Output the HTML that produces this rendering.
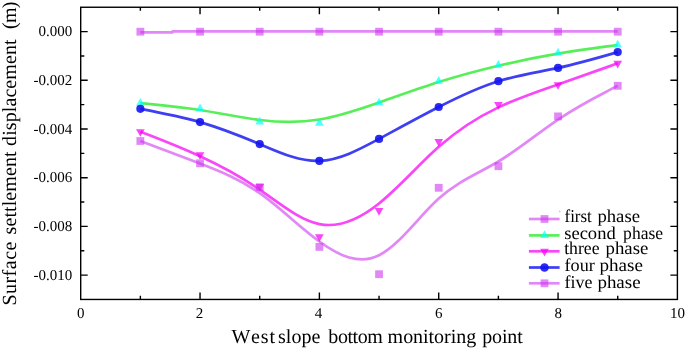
<!DOCTYPE html>
<html><head><meta charset="utf-8"><style>
html,body{margin:0;padding:0;background:#fff;}
body{width:685px;height:349px;overflow:hidden;}
svg{display:block;}
text{font-kerning:none;text-rendering:geometricPrecision;}
.tk{font-family:"Liberation Serif","Times New Roman",serif;font-size:15px;fill:#000;}
.ti{font-family:"Liberation Serif","Times New Roman",serif;font-size:20px;fill:#000;}
.yt{font-size:20.5px;}
.lg{font-family:"Liberation Serif","Times New Roman",serif;font-size:18px;fill:#000;}
</style></head><body>
<svg width="685" height="349" viewBox="0 0 685 349">
<rect x="80.7" y="7.25" width="596.7" height="292.2" fill="none" stroke="#000" stroke-width="1.4"/>
<path d="M140.37 299.45V295.85M140.37 7.25V10.85M200.04 299.45V292.45M200.04 7.25V14.25M259.71 299.45V295.85M259.71 7.25V10.85M319.38 299.45V292.45M319.38 7.25V14.25M379.05 299.45V295.85M379.05 7.25V10.85M438.72 299.45V292.45M438.72 7.25V14.25M498.39 299.45V295.85M498.39 7.25V10.85M558.06 299.45V292.45M558.06 7.25V14.25M617.73 299.45V295.85M617.73 7.25V10.85M80.7 275.1H87.7M677.4 275.1H670.4M80.7 250.75H84.3M677.4 250.75H673.8M80.7 226.4H87.7M677.4 226.4H670.4M80.7 202.05H84.3M677.4 202.05H673.8M80.7 177.7H87.7M677.4 177.7H670.4M80.7 153.35H84.3M677.4 153.35H673.8M80.7 129H87.7M677.4 129H670.4M80.7 104.65H84.3M677.4 104.65H673.8M80.7 80.3H87.7M677.4 80.3H670.4M80.7 55.95H84.3M677.4 55.95H673.8M80.7 31.6H87.7M677.4 31.6H670.4" stroke="#000" stroke-width="1.4" fill="none"/>
<path d="M140.37 32.3H172.6V31.45H617.73" fill="none" stroke="rgb(205,50,240)" stroke-opacity="0.58" stroke-width="2.7" stroke-linejoin="round"/>
<rect x="136.47" y="27.8" width="7.8" height="7.8" fill="rgb(205,50,240)" fill-opacity="0.58"/>
<rect x="196.14" y="27.8" width="7.8" height="7.8" fill="rgb(205,50,240)" fill-opacity="0.58"/>
<rect x="255.81" y="27.8" width="7.8" height="7.8" fill="rgb(205,50,240)" fill-opacity="0.58"/>
<rect x="315.48" y="27.8" width="7.8" height="7.8" fill="rgb(205,50,240)" fill-opacity="0.58"/>
<rect x="375.15" y="27.8" width="7.8" height="7.8" fill="rgb(205,50,240)" fill-opacity="0.58"/>
<rect x="434.82" y="27.8" width="7.8" height="7.8" fill="rgb(205,50,240)" fill-opacity="0.58"/>
<rect x="494.49" y="27.8" width="7.8" height="7.8" fill="rgb(205,50,240)" fill-opacity="0.58"/>
<rect x="554.16" y="27.8" width="7.8" height="7.8" fill="rgb(205,50,240)" fill-opacity="0.58"/>
<rect x="613.83" y="27.8" width="7.8" height="7.8" fill="rgb(205,50,240)" fill-opacity="0.58"/>
<path d="M140.37 103.1C140.37 103.1 140.37 103.1 150.31 104.03C160.26 104.97 180.15 106.83 200.04 109.98C219.93 113.13 239.82 117.57 259.71 119.97C279.6 122.37 299.49 122.73 319.38 119.53C339.27 116.33 359.16 109.57 379.05 102.57C398.94 95.57 418.83 88.33 438.72 82.05C458.61 75.77 478.5 70.43 498.39 65.75C518.28 61.07 538.17 57.03 558.06 53.68C577.95 50.33 597.84 47.67 607.78 46.33C617.73 45 617.73 45 617.73 45" fill="none" stroke="rgb(0,230,0)" stroke-opacity="0.66" stroke-width="2.7" stroke-linejoin="round"/>
<path d="M140.37 97.97L144.72 105.67L136.02 105.67Z" fill="rgb(0,255,255)" fill-opacity="0.68"/>
<path d="M200.04 103.57L204.39 111.27L195.69 111.27Z" fill="rgb(0,255,255)" fill-opacity="0.68"/>
<path d="M259.71 116.87L264.06 124.57L255.36 124.57Z" fill="rgb(0,255,255)" fill-opacity="0.68"/>
<path d="M319.38 117.97L323.73 125.67L315.03 125.67Z" fill="rgb(0,255,255)" fill-opacity="0.68"/>
<path d="M379.05 97.67L383.4 105.37L374.7 105.37Z" fill="rgb(0,255,255)" fill-opacity="0.68"/>
<path d="M438.72 75.97L443.07 83.67L434.37 83.67Z" fill="rgb(0,255,255)" fill-opacity="0.68"/>
<path d="M498.39 59.97L502.74 67.67L494.04 67.67Z" fill="rgb(0,255,255)" fill-opacity="0.68"/>
<path d="M558.06 47.87L562.41 55.57L553.71 55.57Z" fill="rgb(0,255,255)" fill-opacity="0.68"/>
<path d="M617.73 39.87L622.08 47.57L613.38 47.57Z" fill="rgb(0,255,255)" fill-opacity="0.68"/>
<path d="M140.37 131.7C140.37 131.7 140.37 131.7 150.31 135.57C160.26 139.43 180.15 147.17 200.04 156.32C219.93 165.47 239.82 176.03 259.71 189.68C279.6 203.33 299.49 220.07 319.38 224.07C339.27 228.07 359.16 219.33 379.05 203.45C398.94 187.57 418.83 164.53 438.72 146.85C458.61 129.17 478.5 116.83 498.39 107.37C518.28 97.9 538.17 91.3 558.06 84.43C577.95 77.57 597.84 70.43 607.78 66.87C617.73 63.3 617.73 63.3 617.73 63.3" fill="none" stroke="rgb(245,0,245)" stroke-opacity="0.72" stroke-width="2.7" stroke-linejoin="round"/>
<path d="M136.02 129.13L144.72 129.13L140.37 136.83Z" fill="rgb(245,0,245)" fill-opacity="0.72"/>
<path d="M195.69 152.33L204.39 152.33L200.04 160.03Z" fill="rgb(245,0,245)" fill-opacity="0.72"/>
<path d="M255.36 184.03L264.06 184.03L259.71 191.73Z" fill="rgb(245,0,245)" fill-opacity="0.72"/>
<path d="M315.03 234.23L323.73 234.23L319.38 241.93Z" fill="rgb(245,0,245)" fill-opacity="0.72"/>
<path d="M374.7 208.03L383.4 208.03L379.05 215.73Z" fill="rgb(245,0,245)" fill-opacity="0.72"/>
<path d="M434.37 138.93L443.07 138.93L438.72 146.63Z" fill="rgb(245,0,245)" fill-opacity="0.72"/>
<path d="M494.04 101.93L502.74 101.93L498.39 109.63Z" fill="rgb(245,0,245)" fill-opacity="0.72"/>
<path d="M553.71 82.13L562.41 82.13L558.06 89.83Z" fill="rgb(245,0,245)" fill-opacity="0.72"/>
<path d="M613.38 60.73L622.08 60.73L617.73 68.43Z" fill="rgb(245,0,245)" fill-opacity="0.72"/>
<path d="M140.37 108.8C160.26 112.56 180.15 116.32 200.04 122.1C219.93 127.88 239.82 135.66 259.71 144.1C279.6 152.54 299.49 161.62 319.38 160.9C339.27 160.18 359.16 149.64 379.05 138.9C398.94 128.16 418.83 117.2 438.72 107C458.61 96.8 478.5 87.35 498.39 81.2C518.28 75.05 538.17 72.2 558.06 67.9C577.95 63.6 597.84 57.85 617.73 52.1" fill="none" stroke="rgb(20,20,240)" stroke-opacity="0.82" stroke-width="2.7" stroke-linejoin="round"/>
<circle cx="140.37" cy="108.8" r="4.1" fill="rgb(20,20,240)" fill-opacity="0.8999999999999999"/>
<circle cx="200.04" cy="122.1" r="4.1" fill="rgb(20,20,240)" fill-opacity="0.8999999999999999"/>
<circle cx="259.71" cy="144.1" r="4.1" fill="rgb(20,20,240)" fill-opacity="0.8999999999999999"/>
<circle cx="319.38" cy="160.9" r="4.1" fill="rgb(20,20,240)" fill-opacity="0.8999999999999999"/>
<circle cx="379.05" cy="138.9" r="4.1" fill="rgb(20,20,240)" fill-opacity="0.8999999999999999"/>
<circle cx="438.72" cy="107" r="4.1" fill="rgb(20,20,240)" fill-opacity="0.8999999999999999"/>
<circle cx="498.39" cy="81.2" r="4.1" fill="rgb(20,20,240)" fill-opacity="0.8999999999999999"/>
<circle cx="558.06" cy="67.9" r="4.1" fill="rgb(20,20,240)" fill-opacity="0.8999999999999999"/>
<circle cx="617.73" cy="52.1" r="4.1" fill="rgb(20,20,240)" fill-opacity="0.8999999999999999"/>
<path d="M140.37 141C140.37 141 140.37 141 150.31 144.72C160.26 148.43 180.15 155.87 200.04 163.57C219.93 171.27 239.82 179.23 259.71 193.17C279.6 207.1 299.49 227 319.38 241.5C339.27 256 359.16 265.1 379.05 255.25C398.94 245.4 418.83 216.6 438.72 198.6C458.61 180.6 478.5 173.4 498.39 161.5C518.28 149.6 538.17 133 558.06 119.6C577.95 106.2 597.84 96 607.78 90.9C617.73 85.8 617.73 85.8 617.73 85.8" fill="none" stroke="rgb(205,50,240)" stroke-opacity="0.58" stroke-width="2.7" stroke-linejoin="round"/>
<rect x="136.47" y="137.1" width="7.8" height="7.8" fill="rgb(205,50,240)" fill-opacity="0.58"/>
<rect x="196.14" y="159.4" width="7.8" height="7.8" fill="rgb(205,50,240)" fill-opacity="0.58"/>
<rect x="255.81" y="183.3" width="7.8" height="7.8" fill="rgb(205,50,240)" fill-opacity="0.58"/>
<rect x="315.48" y="243" width="7.8" height="7.8" fill="rgb(205,50,240)" fill-opacity="0.58"/>
<rect x="375.15" y="270.3" width="7.8" height="7.8" fill="rgb(205,50,240)" fill-opacity="0.58"/>
<rect x="434.82" y="183.9" width="7.8" height="7.8" fill="rgb(205,50,240)" fill-opacity="0.58"/>
<rect x="494.49" y="162.3" width="7.8" height="7.8" fill="rgb(205,50,240)" fill-opacity="0.58"/>
<rect x="554.16" y="112.5" width="7.8" height="7.8" fill="rgb(205,50,240)" fill-opacity="0.58"/>
<rect x="613.83" y="81.9" width="7.8" height="7.8" fill="rgb(205,50,240)" fill-opacity="0.58"/>
<text x="72.2" y="35.95" text-anchor="end" class="tk">0.000</text>
<text x="72.2" y="84.9" text-anchor="end" class="tk">-0.002</text>
<text x="72.2" y="133.55" text-anchor="end" class="tk">-0.004</text>
<text x="72.2" y="182.2" text-anchor="end" class="tk">-0.006</text>
<text x="72.2" y="230.85" text-anchor="end" class="tk">-0.008</text>
<text x="72.2" y="279.5" text-anchor="end" class="tk">-0.010</text>
<text x="80.7" y="318.4" text-anchor="middle" class="tk">0</text>
<text x="199.54" y="318.4" text-anchor="middle" class="tk">2</text>
<text x="318.58" y="318.4" text-anchor="middle" class="tk">4</text>
<text x="438.72" y="318.4" text-anchor="middle" class="tk">6</text>
<text x="558.36" y="318.4" text-anchor="middle" class="tk">8</text>
<text x="677.4" y="318.4" text-anchor="middle" class="tk">10</text>
<text x="231.4" y="342.8" class="ti" textLength="43.6" lengthAdjust="spacing">West</text>
<text x="278" y="342.8" class="ti" textLength="42.5" lengthAdjust="spacing">slope</text>
<text x="328.3" y="342.8" class="ti" textLength="54.6" lengthAdjust="spacing">bottom</text>
<text x="387.6" y="342.8" class="ti" textLength="88.6" lengthAdjust="spacing">monitoring</text>
<text x="482.2" y="342.8" class="ti" textLength="40.6" lengthAdjust="spacing">point</text>
<text transform="translate(16.3 305.6) rotate(-90)" class="ti" textLength="64" lengthAdjust="spacing">Surface</text>
<text transform="translate(16.3 234.4) rotate(-90)" class="ti" textLength="83" lengthAdjust="spacing">settlement</text>
<text transform="translate(16.3 145.9) rotate(-90)" class="ti" textLength="106.5" lengthAdjust="spacing">displacement</text>
<text transform="translate(16.3 29) rotate(-90)" class="ti" textLength="27.5" lengthAdjust="spacing">(m)</text>
<path d="M528.9 219H559.6" stroke="rgb(205,50,240)" stroke-opacity="0.58" stroke-width="2.7"/>
<rect x="540.6" y="215.1" width="7.8" height="7.8" fill="rgb(205,50,240)" fill-opacity="0.58"/>
<text x="564.5" y="221.65" class="lg" textLength="27.3" lengthAdjust="spacingAndGlyphs">first</text>
<text x="597.4" y="221.65" class="lg" textLength="42.6" lengthAdjust="spacingAndGlyphs">phase</text>
<path d="M528.9 235.4H559.6" stroke="rgb(0,230,0)" stroke-opacity="0.66" stroke-width="2.7"/>
<path d="M544.5 230.27L548.85 237.97L540.15 237.97Z" fill="rgb(0,255,255)" fill-opacity="0.68"/>
<text x="564.2" y="239" class="lg" textLength="51.5" lengthAdjust="spacingAndGlyphs">second</text>
<text x="623.1" y="239" class="lg" textLength="40" lengthAdjust="spacingAndGlyphs">phase</text>
<path d="M528.9 251.3H559.6" stroke="rgb(245,0,245)" stroke-opacity="0.72" stroke-width="2.7"/>
<path d="M540.15 248.73L548.85 248.73L544.5 256.43Z" fill="rgb(245,0,245)" fill-opacity="0.72"/>
<text x="564.2" y="254.3" class="lg" textLength="35.4" lengthAdjust="spacingAndGlyphs">three</text>
<text x="605.5" y="254.3" class="lg" textLength="42.8" lengthAdjust="spacingAndGlyphs">phase</text>
<path d="M528.9 267.5H559.6" stroke="rgb(20,20,240)" stroke-opacity="0.82" stroke-width="2.7"/>
<circle cx="544.5" cy="267.5" r="4.3" fill="rgb(20,20,240)" fill-opacity="0.8999999999999999"/>
<text x="564.5" y="271.1" class="lg" textLength="30.3" lengthAdjust="spacingAndGlyphs">four</text>
<text x="599.5" y="271.1" class="lg" textLength="43.5" lengthAdjust="spacingAndGlyphs">phase</text>
<path d="M528.9 283.3H559.6" stroke="rgb(205,50,240)" stroke-opacity="0.58" stroke-width="2.7"/>
<rect x="540.6" y="279.4" width="7.8" height="7.8" fill="rgb(205,50,240)" fill-opacity="0.58"/>
<text x="564.5" y="287.7" class="lg" textLength="27.9" lengthAdjust="spacingAndGlyphs">five</text>
<text x="597.4" y="287.7" class="lg" textLength="43.2" lengthAdjust="spacingAndGlyphs">phase</text>
<circle cx="559.7" cy="211.4" r="0.9" fill="#c8c8c8"/>
</svg>
</body></html>
